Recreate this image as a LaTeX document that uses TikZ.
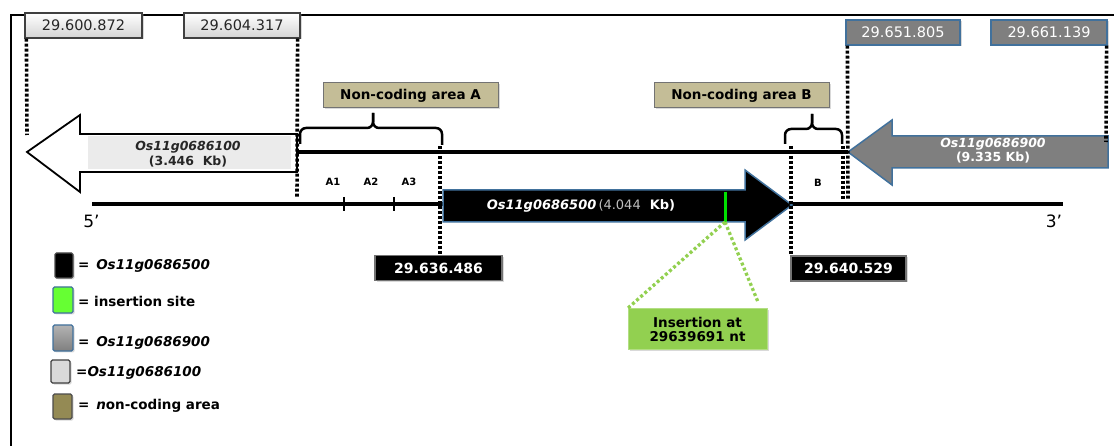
\documentclass[tikz,border=0pt]{standalone}
\usepackage{fontspec}
\setmainfont{DejaVu Sans}
\usetikzlibrary{shadows}
\definecolor{blueb}{HTML}{41719C}
\definecolor{tanA}{HTML}{C4BD97}
\definecolor{tanL}{HTML}{948A54}
\definecolor{lgreen}{HTML}{92D050}
\definecolor{igreen}{HTML}{00E000}
\definecolor{swgreen}{HTML}{66FF33}
\definecolor{garrow}{HTML}{7F7F7F}
\definecolor{darktxt}{HTML}{262626}
\begin{document}
\begin{tikzpicture}[x=1pt,y=-1pt,
  shadowed/.style={drop shadow={shadow xshift=1.5pt,shadow yshift=-1.5pt,opacity=0.3}},
  numbox/.style={draw, line width=1.2pt, minimum height=25pt, inner sep=0pt, font=\fontsize{14.5}{16}\selectfont, shadowed},
  lightbox/.style={numbox, draw=black!75, top color=white, bottom color=black!17, text=darktxt},
  greybox/.style={numbox, draw=blueb, fill=garrow, text=white},
  blackbox/.style={numbox, draw=black!55, fill=black, text=white, font=\bfseries\fontsize{14}{16}\selectfont},
  tanbox/.style={draw=black!55, line width=1pt, fill=tanA, minimum height=25pt, minimum width=175pt, inner sep=0pt, font=\bfseries\fontsize{13.5}{16}\selectfont, shadowed},
  dotline/.style={line width=3.6pt, dash pattern=on 3pt off 2pt},
  greendot/.style={line width=3.3pt, dash pattern=on 3pt off 2.5pt, draw=lgreen},
  dnaline/.style={line width=4pt},
  linkline/.style={line width=3.5pt},
  bracepath/.style={line width=2.5pt, rounded corners=6pt},
  genetext/.style={font=\bfseries\fontsize{12.5}{15}\selectfont, align=center, inner sep=0pt},
  tinylabel/.style={font=\bfseries\fontsize{10}{12}\selectfont, inner sep=0pt},
  endlabel/.style={font=\fontsize{17}{19}\selectfont, inner sep=0pt},
  swatch/.style={line width=1.2pt, rounded corners=1.5pt, inner sep=0pt, shadowed},
  legtext/.style={anchor=base west, inner sep=0pt, font=\bfseries\fontsize{13.5}{16}\selectfont},
]
\useasboundingbox (0,0) rectangle (1114,446);
% frame
\draw[line width=2pt] (10.5,446) -- (10.5,15) -- (1114,15);

% DNA lines
\draw[linkline] (297,152) -- (848,152);
\draw[dnaline] (92,204) -- (1063,204);
\draw[line width=2.5pt] (344,197) -- (344,211);
\draw[line width=2.5pt] (394,197) -- (394,211);

% light arrow
\draw[line width=1.8pt, fill=white] (27,152) -- (80,115) -- (80,134) -- (297,134) -- (297,172) -- (80,172) -- (80,192) -- cycle;
\fill[black!8] (88,136.5) rectangle (291,169.5);
\node[genetext, text=darktxt] (g1) at (188,154.5) {\textit{Os11g0686100}\\(3.446\ \ Kb)};

% grey arrow
\draw[line width=1.5pt, draw=blueb, fill=garrow] (848,152) -- (892,120) -- (892,136) -- (1108,136) -- (1108,168) -- (892,168) -- (892,185) -- cycle;
\node[genetext, text=white, font=\bfseries\fontsize{12.5}{14}\selectfont] (g9) at (993,150.5) {\textit{Os11g0686900}\\(9.335 Kb)};

% black arrow
\draw[line width=1.5pt, draw=blueb, fill=black] (443,190) -- (745,190) -- (745,170) -- (792,205) -- (745,240) -- (745,222) -- (443,222) -- cycle;
\node[genetext, text=white, font=\bfseries\fontsize{13}{15}\selectfont] (g5) at (581,206) {\textit{Os11g0686500}\,{\mdseries\color{black!25}(4.044}\ \ Kb)};

% insertion
\coordinate (ins) at (725,222);
\coordinate (ir) at (758,302);
\draw[line width=3pt, igreen] (725,192) -- (ins);

% non-coding boxes and braces
\node[tanbox] (ncA) at (410.5,95.5) {Non-coding area A};
\node[tanbox] (ncB) at (741.5,95.5) {Non-coding area B};
\draw[bracepath] (300,144) -- (300,128) -- (373,128) -- (373,113);
\draw[bracepath] (442,145) -- (442,128) -- (373,128) -- (373,113);
\draw[bracepath] (785,144) -- (785,129) -- (812,129) -- (812,114);
\draw[bracepath] (842,144) -- (842,129) -- (812,129) -- (812,114);

% number boxes
\node[lightbox, minimum width=117pt] (b1) at (83.5,25.5) {29.600.872};
\node[lightbox, minimum width=116pt] (b2) at (242,25.5) {29.604.317};
\node[greybox, minimum width=114pt] (b3) at (903,32.5) {29.651.805};
\node[greybox, minimum width=116pt] (b4) at (1049,32.5) {29.661.139};
\node[blackbox, minimum width=127pt] (b5) at (438.5,268) {29.636.486};
\node[blackbox, minimum width=115pt] (b6) at (848.5,268.5) {29.640.529};

% dotted guides
\coordinate (e1) at (27,135);
\coordinate (e2) at (297,198);
\coordinate (e3) at (848,200);
\coordinate (e4) at (1106,142);
\coordinate (eA) at (440,146);
\coordinate (eB) at (791,146);
\coordinate (eC) at (843,146);
\coordinate (eC2) at (843,200);
\draw[dotline] ([xshift=2pt]b1.south west) -- (e1);
\draw[dotline] ([xshift=-3pt]b2.south east) -- (e2);
\draw[dotline] ([xshift=2pt]b3.south west) -- (e3);
\draw[dotline] ([xshift=-1pt]b4.south east) -- (e4);
\draw[dotline] (eA) -- (eA |- b5.north);
\draw[dotline] (eB) -- (eB |- b6.north);
\draw[dotline] (eC) -- (eC2);

% labels
\node[tinylabel] (la1) at (333,182) {A1};
\node[tinylabel] (la2) at (371,182) {A2};
\node[tinylabel] (la3) at (409,182) {A3};
\node[tinylabel] (lb) at (818,183) {B};
\node[endlabel] (p5) at (91.5,221) {5’};
\node[endlabel] (p3) at (1054,221.5) {3’};

% insertion box
\node[draw=lgreen!70!white, line width=1pt, fill=lgreen, minimum width=139pt, minimum height=41pt, align=center, inner sep=0pt, font=\bfseries\fontsize{13.5}{14}\selectfont, shadowed] (ibox) at (697.5,329.5) {Insertion at\\29639691 nt};
\draw[greendot] (ins) -- (ibox.north west);
\draw[greendot] (ins) -- (ir);

% legend
\node[swatch, draw=black!70, fill=black, minimum width=18pt, minimum height=25pt] (s1) at (64,265.5) {};
\node[swatch, draw=blueb, fill=swgreen, minimum width=20pt, minimum height=26pt] (s2) at (63,300) {};
\node[swatch, draw=blueb, top color=black!30, bottom color=garrow, minimum width=20pt, minimum height=26pt] (s3) at (63,338) {};
\node[swatch, draw=black!75, fill=black!15, minimum width=19pt, minimum height=23pt] (s4) at (60.5,371.5) {};
\node[swatch, draw=black!70, fill=tanL, minimum width=19pt, minimum height=25pt] (s5) at (62.5,406.5) {};
\node[legtext] (t1) at (78,270) {=\enspace\textit{Os11g0686500}};
\node[legtext] (t2) at (78,307) {= insertion site};
\node[legtext] (t3) at (78,346) {=\enspace\textit{Os11g0686900}};
\node[legtext] (t4) at (76,377) {=\textit{Os11g0686100}};
\node[legtext] (t5) at (78,409) {=\enspace\textit{n}on-coding area};
\end{tikzpicture}
\end{document}
